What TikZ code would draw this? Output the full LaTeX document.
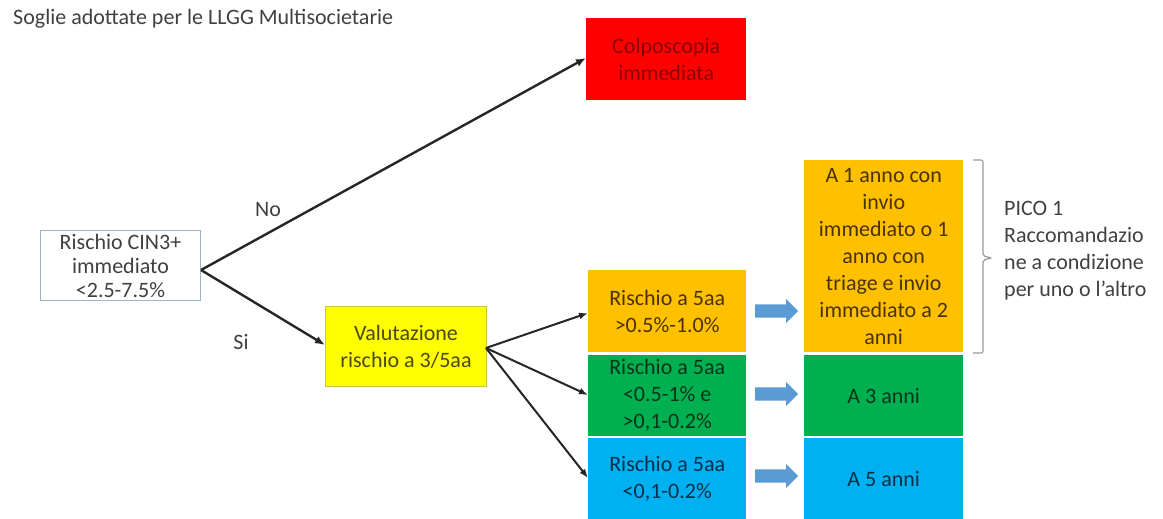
\documentclass[tikz,border=0pt]{standalone}
\usepackage{fontspec}
\setmainfont{Carlito}
\usetikzlibrary{shapes.arrows,arrows.meta}

\definecolor{cRed}{HTML}{FF0000}
\definecolor{cRedTxt}{HTML}{8A0000}
\definecolor{cYel}{HTML}{FFFF00}
\definecolor{cYelBd}{HTML}{C8C832}
\definecolor{cYelTxt}{HTML}{4A4A10}
\definecolor{cOra}{HTML}{FFC000}
\definecolor{cOraTxt}{HTML}{4A3200}
\definecolor{cGre}{HTML}{00B050}
\definecolor{cGreTxt}{HTML}{00351A}
\definecolor{cBlu}{HTML}{00B0F0}
\definecolor{cBluTxt}{HTML}{00304A}
\definecolor{cFrame}{HTML}{9DB3C8}
\definecolor{cGray}{HTML}{404040}
\definecolor{cBlock}{HTML}{5B9BD5}
\definecolor{cBrace}{HTML}{9A9A9A}

\tikzset{
  box/.style={draw=none, inner sep=0pt, align=center, anchor=north west,
    font=\fontsize{22}{27}\selectfont},
  conn/.style={line width=2.4pt, draw=black!85, -{Latex[length=10pt,width=8pt]}},
  thinconn/.style={line width=2pt, draw=black!85, -{Latex[length=9pt,width=7pt]}},
  blockarrow/.style={single arrow, fill=cBlock, draw=none, minimum height=43pt,
    minimum width=24pt, single arrow head extend=5.5pt, inner xsep=0pt,
    inner ysep=6.5pt, single arrow head indent=0pt, anchor=west},
  lbl/.style={font=\fontsize{22}{27}\selectfont, text=cGray, inner sep=0pt},
}

\begin{document}
\begin{tikzpicture}[x=1pt,y=-1pt]
\useasboundingbox (0,0) rectangle (1163,519);

\node[lbl, anchor=west] (title) at (13,19) {Soglie adottate per le LLGG Multisocietarie};

% decision boxes
\node[box, draw=cFrame, line width=1pt, fill=white, text=cGray,
  minimum width=160pt, minimum height=70pt, font=\fontsize{22}{24}\selectfont]
  (cin) at (40,230) {Rischio CIN3+\\immediato\\<2.5-7.5\%};
\node[box, fill=cRed, text=cRedTxt, minimum width=160pt, minimum height=82pt]
  (colpo) at (586,18) {Colposcopia\\immediata};
\node[box, fill=cYel, draw=cYelBd, line width=1pt, text=cYelTxt,
  minimum width=161pt, minimum height=80pt]
  (val) at (325,306) {Valutazione\\rischio a 3/5aa};

% risk classes
\node[box, fill=cOra, text=cOraTxt, minimum width=158pt, minimum height=82pt]
  (r1) at (588,270) {Rischio a 5aa\\>0.5\%-1.0\%};
\node[box, fill=cGre, text=cGreTxt, minimum width=158pt, minimum height=81pt]
  (r2) at (588,355) {Rischio a 5aa\\<0.5-1\% e\\>0,1-0.2\%};
\node[box, fill=cBlu, text=cBluTxt, minimum width=158pt, minimum height=81pt]
  (r3) at (588,438) {Rischio a 5aa\\<0,1-0.2\%};

% intervals
\node[box, fill=cOra, text=cOraTxt, minimum width=159pt, minimum height=192pt]
  (i1) at (804,160) {A 1 anno con\\invio\\immediato o 1\\anno con\\triage e invio\\immediato a 2\\anni};
\node[box, fill=cGre, text=cGreTxt, minimum width=159pt, minimum height=81pt]
  (i2) at (804,355) {A 3 anni};
\node[box, fill=cBlu, text=cBluTxt, minimum width=159pt, minimum height=81pt]
  (i3) at (804,438) {A 5 anni};

% block arrows between classes and intervals
\node[blockarrow] (b1) at (755,311) {};
\node[blockarrow] (b2) at (755,394) {};
\node[blockarrow] (b3) at (755,476) {};

% connectors
\coordinate (cinout) at (201,270);
\coordinate (valout) at (486,348);
\draw[conn] (cinout) -- (colpo.west |- 0,58);
\draw[conn] (cinout) -- (val.west |- 0,345);
\draw[thinconn] (valout) -- (r1.west |- 0,313);
\draw[thinconn] (valout) -- (r2.west |- 0,395);
\draw[thinconn] (valout) -- (r3.west |- 0,478);

\node[lbl] (no) at (268,210) {No};
\node[lbl] (si) at (241,342) {Si};

% brace grouping the one-year option
\draw[cBrace, line width=1.2pt, rounded corners=2pt]
  (973,160) -- (983,160) -- (983,256) -- (992,258) -- (983,260) -- (983,353) -- (973,353);

\node[lbl, anchor=north west, align=left]
  (pico) at (1004,201) {PICO 1\\Raccomandazio\\ne a condizione\\per uno o l’altro};
\end{tikzpicture}
\end{document}
